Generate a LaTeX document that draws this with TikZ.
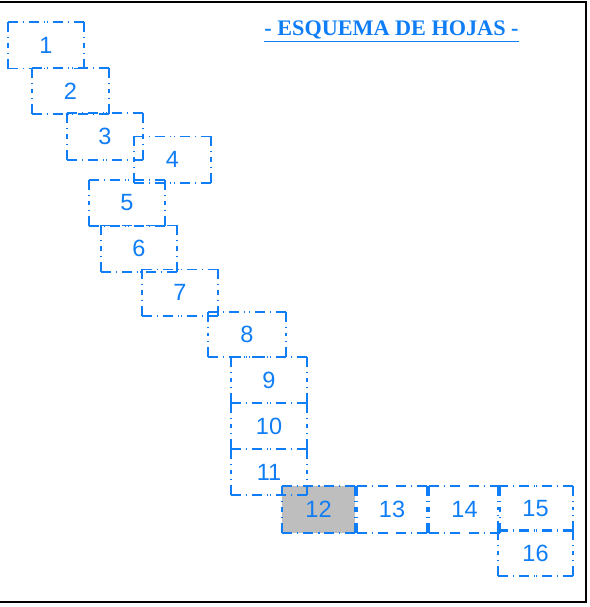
\documentclass[tikz,border=0pt]{standalone}
\usepackage{fontspec}
\setmainfont{Liberation Serif}
\newfontfamily\arialf{Liberation Sans}
\definecolor{sheetblue}{RGB}{15,125,245}
\definecolor{sheetgray}{RGB}{190,190,190}
\begin{document}
\begin{tikzpicture}[x=1pt,y=-1pt,
  sheet/.style={rectangle, inner sep=0pt, minimum width=76pt, minimum height=46pt,
    font=\arialf\fontsize{23.5}{23.5}\selectfont, text=sheetblue},
  sheetline/.style={draw=sheetblue, line width=1.6pt, dash pattern=on 10pt off 5pt on 1pt off 5pt},
  frameline/.style={draw=black, line width=1.5pt}]
\useasboundingbox (0,0) rectangle (589,607);
\coordinate (fa) at (0,2);
\coordinate (fb) at (586,2);
\coordinate (fc) at (586,602);
\coordinate (fd) at (0,602);
\draw[frameline] (fa) -- (fb) -- (fc) -- (fd);

\node[inner sep=0pt, anchor=base, text=sheetblue, font=\bfseries\fontsize{22.2}{22.2}\selectfont] (title) at (391.5,35.5) {- ESQUEMA DE HOJAS -};
\draw[sheetblue, line width=1pt] ([yshift=-6.5pt]title.base west) -- ([yshift=-6.5pt]title.base east);

\node[sheet] (s1) at (46,45.5) {1};
\node[sheet, minimum width=77pt] (s2) at (70.5,91) {2};
\node[sheet] (s3) at (105,136.5) {3};
\node[sheet, minimum width=77pt] (s4) at (172.5,159.5) {4};
\node[sheet] (s5) at (127,203) {5};
\node[sheet] (s6) at (139,248.5) {6};
\node[sheet] (s7) at (180,292.5) {7};
\node[sheet, minimum width=78pt, minimum height=45pt] (s8) at (247,334.5) {8};
\node[sheet] (s9) at (269,380) {9};
\node[sheet] (s10) at (269,426) {10};
\node[sheet] (s11) at (269,472) {11};
\node[sheet, fill=sheetgray, minimum width=73pt, minimum height=47pt] (s12) at (318.5,509.5) {12};
\node[sheet, minimum width=70pt, minimum height=47pt] (s13) at (392,509.5) {13};
\node[sheet, minimum width=71pt, minimum height=47pt] (s14) at (464.5,509.5) {14};
\node[sheet, minimum width=75pt, minimum height=45pt] (s15) at (535.5,508.5) {15};
\node[sheet, minimum width=75pt] (s16) at (535.5,553) {16};

\foreach \n in {s1,s2,s3,s4,s5,s6,s7,s8,s9,s10,s11,s12,s13,s14,s15,s16}{
  \draw[sheetline] (\n.north west) -- (\n.north);
  \draw[sheetline] (\n.north east) -- (\n.north);
  \draw[sheetline] (\n.south west) -- (\n.south);
  \draw[sheetline] (\n.south east) -- (\n.south);
  \draw[sheetline] (\n.north west) -- (\n.west);
  \draw[sheetline] (\n.south west) -- (\n.west);
  \draw[sheetline] (\n.north east) -- (\n.east);
  \draw[sheetline] (\n.south east) -- (\n.east);
}
\end{tikzpicture}
\end{document}
